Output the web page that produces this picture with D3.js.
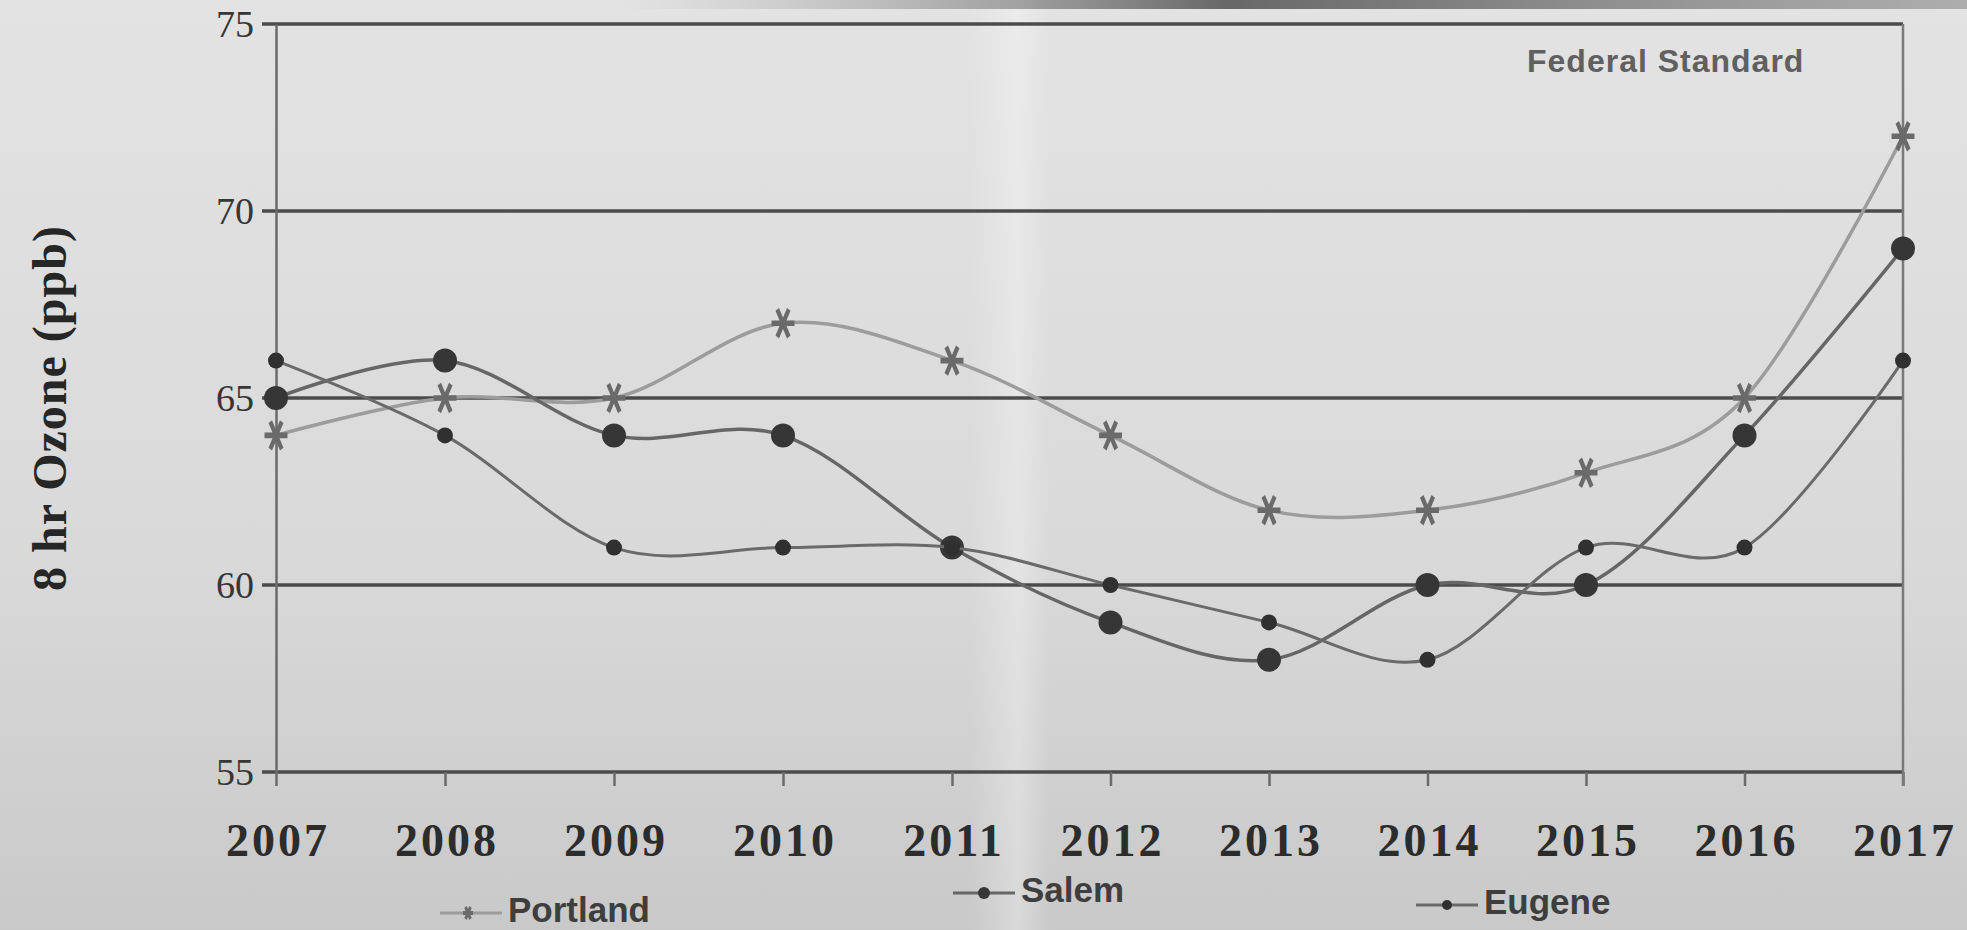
<!DOCTYPE html>
<html>
<head>
<meta charset="utf-8">
<script src="https://cdn.jsdelivr.net/npm/d3@7"></script>
<style>
  html, body { margin: 0; padding: 0; background: #d6d6d6; }
  svg { display: block; }
</style>
</head>
<body>
<script>
var years = [2007, 2008, 2009, 2010, 2011, 2012, 2013, 2014, 2015, 2016, 2017];
var portland = [64, 65, 65, 67, 66, 64, 62, 62, 63, 65, 72];
var salem = [65, 66, 64, 64, 61, 59, 58, 60, 60, 64, 69];
var eugene = [66, 64, 61, 61, 61, 60, 59, 58, 61, 61, 66];
var yTicks = [55, 60, 65, 70, 75];
var seriesNames = ["Portland", "Salem", "Eugene"];
var yTitle = "8 hr Ozone (ppb)";
var standardLabel = "Federal Standard";

var boxWidth = 1967;
var boxHeight = 930;
var gridColor = "#4b4b4b";
var axisColor = "#6a6a6a";

var svg = d3.select("body")
    .append("svg")
        .attr("width", boxWidth)
        .attr("height", boxHeight);

// paper background, a bit darker towards the bottom
var defs = svg.append("defs");
var bg = defs.append("linearGradient")
    .attr("id", "paper")
    .attr("x1", 0).attr("y1", 0).attr("x2", 0).attr("y2", 1);
bg.append("stop").attr("offset", "0%").attr("stop-color", "#e3e3e3");
bg.append("stop").attr("offset", "60%").attr("stop-color", "#d9d9d9");
bg.append("stop").attr("offset", "100%").attr("stop-color", "#c9c9c9");

var fold = defs.append("linearGradient")
    .attr("id", "fold")
    .attr("x1", 0).attr("y1", 0).attr("x2", 1).attr("y2", 0);
fold.append("stop").attr("offset", "0%").attr("stop-color", "#ffffff").attr("stop-opacity", 0);
fold.append("stop").attr("offset", "60%").attr("stop-color", "#ffffff").attr("stop-opacity", 0.3);
fold.append("stop").attr("offset", "100%").attr("stop-color", "#ffffff").attr("stop-opacity", 0);

var band = defs.append("linearGradient")
    .attr("id", "band")
    .attr("x1", 0).attr("y1", 0).attr("x2", 1).attr("y2", 0);
band.append("stop").attr("offset", "0%").attr("stop-color", "#9a9a9a").attr("stop-opacity", 0);
band.append("stop").attr("offset", "45%").attr("stop-color", "#5a5a5a").attr("stop-opacity", 0.9);
band.append("stop").attr("offset", "100%").attr("stop-color", "#8a8a8a").attr("stop-opacity", 0.6);

svg.append("rect")
    .attr("width", boxWidth)
    .attr("height", boxHeight)
    .attr("fill", "url(#paper)");
svg.append("rect")
    .attr("x", 970).attr("y", 0)
    .attr("width", 80).attr("height", boxHeight)
    .attr("fill", "url(#fold)");
svg.append("rect")
    .attr("x", 620).attr("y", 0)
    .attr("width", 1347).attr("height", 9)
    .attr("fill", "url(#band)");

// the page is folded near 2011, so the year spacing is not quite even
var x = d3.scaleLinear()
    .domain([2007, 2011, 2017])
    .range([276, 952, 1903]);

var y = d3.scaleLinear()
    .domain([55, 75])
    .range([772, 24]);

var chart = svg.append("g");

// horizontal grid lines with little ticks out to the left
chart.append("g")
    .attr("class", "grid")
    .selectAll("line")
    .data(yTicks)
    .enter()
    .append("line")
        .attr("x1", x(2007) - 14)
        .attr("x2", x(2017))
        .attr("y1", function(d) { return y(d) })
        .attr("y2", function(d) { return y(d) })
        .attr("stroke", gridColor)
        .attr("stroke-width", 3.5);

// y axis
var yAxis = chart.append("g")
    .attr("transform", "translate(" + x(2007) + ",0)")
    .call(d3.axisLeft(y).tickValues(yTicks).tickSize(0).tickPadding(22));
yAxis.select(".domain").attr("stroke", axisColor).attr("stroke-width", 2.5);
yAxis.selectAll("text")
    .attr("font-family", "'Liberation Serif', 'Times New Roman', serif")
    .attr("font-size", 38)
    .attr("fill", "#363636");

// x axis
var xAxis = chart.append("g")
    .attr("transform", "translate(0," + y(55) + ")")
    .call(d3.axisBottom(x).tickValues(years).tickFormat(d3.format("d")).tickSize(14).tickSizeOuter(0).tickPadding(26));
xAxis.select(".domain").remove();
xAxis.selectAll("line").attr("stroke", axisColor).attr("stroke-width", 2.5);
xAxis.selectAll("text")
    .attr("font-family", "'Liberation Serif', 'Times New Roman', serif")
    .attr("font-weight", "bold")
    .attr("font-size", 46)
    .attr("letter-spacing", 3)
    .attr("dx", 1.5)
    .attr("dy", "0.95em")
    .attr("fill", "#2c2c2c");

// right border
chart.append("line")
    .attr("x1", x(2017)).attr("x2", x(2017))
    .attr("y1", y(75)).attr("y2", y(55) + 14)
    .attr("stroke", "#7a7a7a")
    .attr("stroke-width", 2.5);

// y title
svg.append("text")
    .attr("transform", "translate(66," + ((y(55) + y(75)) / 2 + 10) + ") rotate(-90)")
    .attr("text-anchor", "middle")
    .attr("font-family", "'Liberation Serif', 'Times New Roman', serif")
    .attr("font-weight", "bold")
    .attr("font-size", 48)
    .attr("letter-spacing", 1)
    .attr("fill", "#262626")
    .text(yTitle);

svg.append("text")
    .attr("x", 1527)
    .attr("y", 72)
    .attr("font-family", "'Liberation Sans', Arial, sans-serif")
    .attr("font-weight", "bold")
    .attr("font-size", 32)
    .attr("letter-spacing", 1)
    .attr("fill", "#606060")
    .text(standardLabel);

// series
var series = [
    {name: seriesNames[0], values: portland, line: "#9c9c9c", width: 3.5, mark: "#6a6a6a"},
    {name: seriesNames[1], values: salem, line: "#666666", width: 3.5, mark: "#363636"},
    {name: seriesNames[2], values: eugene, line: "#6a6a6a", width: 3, mark: "#303030"}
];

var line = d3.line()
    .x(function(d, i) { return x(years[i]) })
    .y(function(d) { return y(d) })
    .curve(d3.curveCardinal.tension(0));

var star = d3.symbol().type(d3.symbolAsterisk).size(460);

series.forEach(function(s, k) {
    var g = chart.append("g").attr("class", "series-" + k);
    g.append("path")
        .datum(s.values)
        .attr("fill", "none")
        .attr("stroke", s.line)
        .attr("stroke-width", s.width)
        .attr("d", line);

    if (k == 0) {
        g.selectAll("path.mark")
            .data(s.values)
            .enter()
            .append("path")
                .attr("class", "mark")
                .attr("transform", function(d, i) { return "translate(" + x(years[i]) + "," + y(d) + ") rotate(90) scale(1.25,0.9)" })
                .attr("d", star)
                .attr("fill", "none")
                .attr("stroke", s.mark)
                .attr("stroke-width", 4.5);
    } else {
        g.selectAll("circle")
            .data(s.values)
            .enter()
            .append("circle")
                .attr("cx", function(d, i) { return x(years[i]) })
                .attr("cy", function(d) { return y(d) })
                .attr("r", k == 1 ? 12 : 8)
                .attr("fill", s.mark);
    }
});

// legend, slightly wavy like the photographed page
var legendPos = [
    {x: 440, y: 922},
    {x: 953, y: 902},
    {x: 1416, y: 914}
];

var legend = svg.append("g").attr("class", "legend");
series.forEach(function(s, k) {
    var p = legendPos[k];
    var g = legend.append("g").attr("transform", "translate(" + p.x + "," + p.y + ")");
    g.append("line")
        .attr("x1", 0).attr("x2", 62)
        .attr("y1", -9).attr("y2", -9)
        .attr("stroke", s.line)
        .attr("stroke-width", 3);
    if (k == 0) {
        g.append("path")
            .attr("transform", "translate(28,-9) rotate(90) scale(1.1,0.8)")
            .attr("d", d3.symbol().type(d3.symbolAsterisk).size(110))
            .attr("fill", "none")
            .attr("stroke", s.mark)
            .attr("stroke-width", 3.5);
    } else {
        g.append("circle")
            .attr("cx", 31).attr("cy", -9)
            .attr("r", k == 1 ? 6 : 5)
            .attr("fill", s.mark);
    }
    g.append("text")
        .attr("x", 68)
        .attr("font-family", "'Liberation Sans', Arial, sans-serif")
        .attr("font-weight", "bold")
        .attr("font-size", 35)
        .attr("fill", "#3e3e3e")
        .text(s.name);
});
</script>
</body>
</html>
